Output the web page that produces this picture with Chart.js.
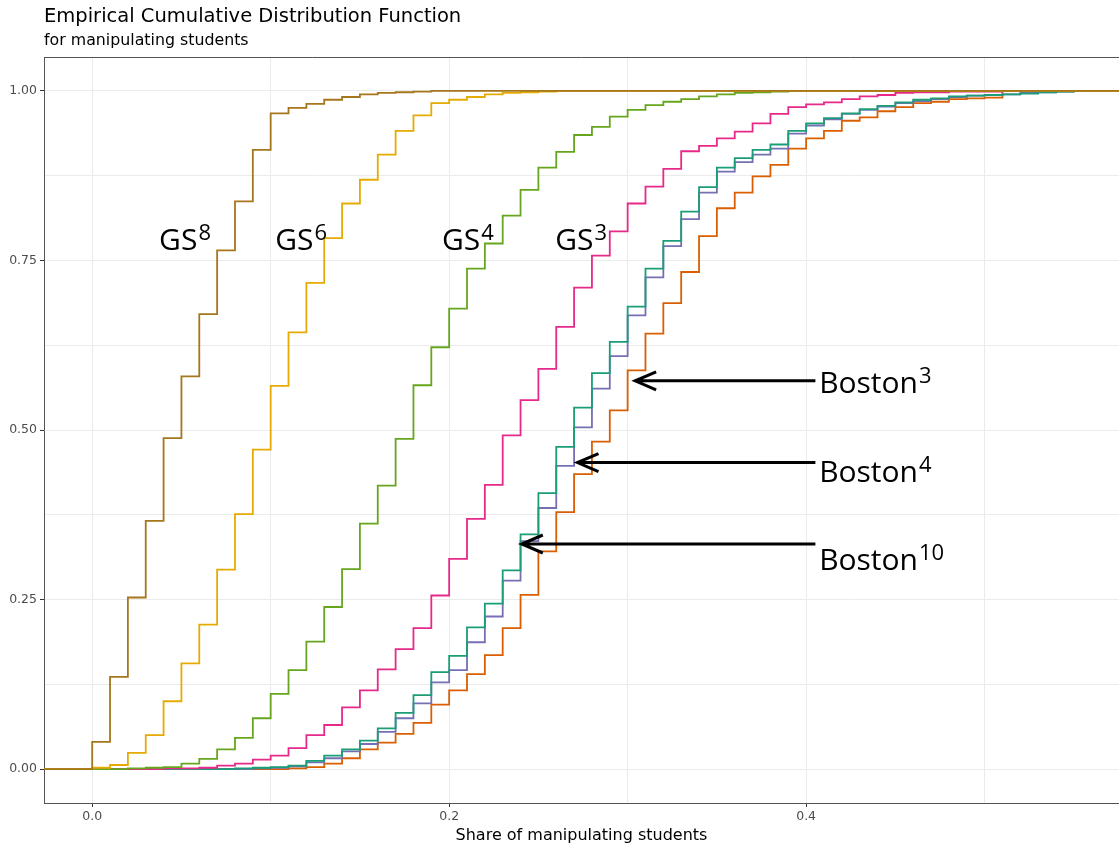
<!DOCTYPE html>
<html>
<head>
<meta charset="utf-8">
<script src="https://cdn.jsdelivr.net/npm/chart.js@4.4.0/dist/chart.umd.min.js"></script>
<style>
  html, body { margin: 0; padding: 0; background: #fff; }
  #wrap { width: 1119px; height: 848px; }
</style>
</head>
<body>
<div id="wrap"><canvas id="ecdfChart" width="1119" height="848"></canvas></div>
<script>
// share of manipulating students (x positions of the ECDF steps)
const shares = [0.00, 0.01, 0.02, 0.03, 0.04, 0.05, 0.06, 0.07, 0.08, 0.09,
                0.10, 0.11, 0.12, 0.13, 0.14, 0.15, 0.16, 0.17, 0.18, 0.19,
                0.20, 0.21, 0.22, 0.23, 0.24, 0.25, 0.26, 0.27, 0.28, 0.29,
                0.30, 0.31, 0.32, 0.33, 0.34, 0.35, 0.36, 0.37, 0.38, 0.39,
                0.40, 0.41, 0.42, 0.43, 0.44, 0.45, 0.46, 0.47, 0.48, 0.49,
                0.50, 0.51, 0.52, 0.53, 0.54, 0.55];

// cumulative share at each step
const gs8 = [0.040, 0.136, 0.253, 0.366, 0.488, 0.579, 0.671, 0.765, 0.837, 0.913,
             0.967, 0.975, 0.981, 0.987, 0.991, 0.995, 0.997, 0.998, 0.999, 1,
             1, 1, 1, 1, 1, 1, 1, 1, 1, 1, 1, 1, 1, 1, 1, 1, 1, 1, 1, 1,
             1, 1, 1, 1, 1, 1, 1, 1, 1, 1, 1, 1, 1, 1, 1, 1];
const gs6 = [0.002, 0.006, 0.024, 0.050, 0.100, 0.156, 0.213, 0.294, 0.376, 0.471,
             0.565, 0.644, 0.717, 0.783, 0.834, 0.869, 0.906, 0.941, 0.964, 0.982,
             0.987, 0.991, 0.995, 0.997, 0.998, 0.999, 1, 1, 1, 1,
             1, 1, 1, 1, 1, 1, 1, 1, 1, 1, 1, 1, 1, 1, 1, 1, 1, 1, 1, 1, 1, 1, 1, 1, 1, 1];
const gs4 = [0, 0, 0.001, 0.002, 0.003, 0.008, 0.015, 0.029, 0.046, 0.075,
             0.111, 0.146, 0.188, 0.239, 0.295, 0.362, 0.418, 0.487, 0.566, 0.622,
             0.679, 0.738, 0.775, 0.816, 0.854, 0.887, 0.910, 0.935, 0.947, 0.962,
             0.972, 0.979, 0.984, 0.988, 0.992, 0.995, 0.997, 0.998, 0.999, 1,
             1, 1, 1, 1, 1, 1, 1, 1, 1, 1, 1, 1, 1, 1, 1, 1];
const gs3 = [0, 0, 0, 0, 0.001, 0.001, 0.002, 0.005, 0.008, 0.014,
             0.020, 0.031, 0.050, 0.065, 0.091, 0.116, 0.147, 0.177, 0.208, 0.256,
             0.310, 0.369, 0.419, 0.492, 0.544, 0.590, 0.652, 0.710, 0.757, 0.793,
             0.834, 0.859, 0.885, 0.911, 0.919, 0.930, 0.940, 0.952, 0.966, 0.976,
             0.980, 0.983, 0.988, 0.992, 0.994, 0.997, 0.998, 0.998, 0.999, 0.999,
             0.999, 1, 1, 1, 1, 1];
const boston10 = [0, 0, 0, 0, 0, 0, 0, 0, 0.001, 0.002,
                  0.003, 0.005, 0.012, 0.020, 0.029, 0.042, 0.060, 0.083, 0.109, 0.143,
                  0.167, 0.209, 0.244, 0.293, 0.346, 0.407, 0.475, 0.533, 0.584, 0.630,
                  0.682, 0.738, 0.779, 0.822, 0.858, 0.887, 0.901, 0.913, 0.921, 0.941,
                  0.952, 0.960, 0.967, 0.973, 0.978, 0.983, 0.987, 0.989, 0.992, 0.993,
                  0.994, 0.995, 0.996, 0.998, 0.999, 1];
const boston4 = [0, 0, 0, 0, 0, 0, 0, 0, 0, 0.001,
                 0.002, 0.004, 0.010, 0.016, 0.026, 0.037, 0.055, 0.075, 0.097, 0.128,
                 0.146, 0.187, 0.225, 0.278, 0.336, 0.385, 0.447, 0.504, 0.561, 0.609,
                 0.669, 0.725, 0.771, 0.811, 0.850, 0.881, 0.895, 0.906, 0.915, 0.937,
                 0.949, 0.958, 0.966, 0.972, 0.977, 0.982, 0.985, 0.988, 0.991, 0.993,
                 0.994, 0.995, 0.997, 0.998, 0.999, 1];
const boston3 = [0, 0, 0, 0, 0, 0, 0, 0, 0, 0,
                 0, 0.001, 0.003, 0.008, 0.016, 0.029, 0.039, 0.052, 0.068, 0.095,
                 0.116, 0.140, 0.168, 0.208, 0.257, 0.321, 0.379, 0.435, 0.483, 0.529,
                 0.588, 0.642, 0.687, 0.733, 0.786, 0.827, 0.850, 0.874, 0.891, 0.915,
                 0.930, 0.941, 0.956, 0.961, 0.970, 0.976, 0.982, 0.984, 0.988, 0.989,
                 0.990, 1, 1, 1, 1, 1];

const yTicks = [0, 0.25, 0.5, 0.75, 1];
const xTicks = [0, 0.2, 0.4];

// hand-drawn style labels and arrows (data coordinates)
const labels = [
  { text: 'GS', sup: '8', x: 0.0375, y: 0.765 },
  { text: 'GS', sup: '6', x: 0.1025, y: 0.765 },
  { text: 'GS', sup: '4', x: 0.196, y: 0.765 },
  { text: 'GS', sup: '3', x: 0.2594, y: 0.765 },
  { text: 'Boston', sup: '3', x: 0.4073, y: 0.554 },
  { text: 'Boston', sup: '4', x: 0.4073, y: 0.424 },
  { text: 'Boston', sup: '10', x: 0.4073, y: 0.294 }
];
const arrows = [
  { from: 0.4052, to: 0.3042, y: 0.5725 },
  { from: 0.4052, to: 0.2719, y: 0.4519 },
  { from: 0.4052, to: 0.2407, y: 0.3319 }
];

function steps(vals) {
  const pts = [{ x: -0.1, y: 0 }];
  shares.forEach((s, i) => pts.push({ x: s, y: vals[i] }));
  pts.push({ x: 0.7, y: 1 });
  return pts;
}

function isOn(v, list) {
  return list.some(t => Math.abs(t - v) < 1e-6);
}

const series = [
  { label: 'GS8', vals: gs8, color: '#A6761D' },
  { label: 'GS6', vals: gs6, color: '#E6AB02' },
  { label: 'GS4', vals: gs4, color: '#66A61E' },
  { label: 'GS3', vals: gs3, color: '#E7298A' },
  { label: 'Boston10', vals: boston10, color: '#1B9E77' },
  { label: 'Boston4', vals: boston4, color: '#7570B3' },
  { label: 'Boston3', vals: boston3, color: '#D95F02' }
];

const frame = {
  id: 'frame',
  afterDraw(chart) {
    const { ctx, chartArea: a, scales } = chart;
    ctx.save();
    // top border of panel
    ctx.strokeStyle = '#555';
    ctx.lineWidth = 1;
    ctx.beginPath();
    ctx.moveTo(a.left, a.top + 0.5);
    ctx.lineTo(a.right, a.top + 0.5);
    ctx.stroke();
    // titles
    ctx.fillStyle = '#000';
    ctx.textAlign = 'left';
    ctx.textBaseline = 'alphabetic';
    ctx.font = '19.5px "DejaVu Sans"';
    ctx.fillText('Empirical Cumulative Distribution Function', a.left, 22);
    ctx.font = '15.8px "DejaVu Sans"';
    ctx.fillText('for manipulating students', a.left, 45);

    // annotations
    const xs = scales.x, ys = scales.y;
    labels.forEach(l => {
      const px = xs.getPixelForValue(l.x);
      const py = ys.getPixelForValue(l.y);
      ctx.font = '30px "Open Sans"';
      ctx.fillText(l.text, px, py);
      const w = ctx.measureText(l.text).width;
      ctx.font = '22px "Open Sans"';
      ctx.fillText(l.sup, px + w + 1, py - 10);
    });
    ctx.strokeStyle = '#000';
    ctx.lineWidth = 3;
    ctx.lineCap = 'butt';
    arrows.forEach(ar => {
      const x0 = xs.getPixelForValue(ar.from);
      const x1 = xs.getPixelForValue(ar.to);
      const py = ys.getPixelForValue(ar.y);
      ctx.beginPath();
      ctx.moveTo(x0, py);
      ctx.lineTo(x1, py);
      ctx.moveTo(x1 + 21, py - 9);
      ctx.lineTo(x1, py);
      ctx.lineTo(x1 + 21, py + 9);
      ctx.stroke();
    });
    ctx.restore();
  }
};

const ctx = document.getElementById('ecdfChart').getContext('2d');
const ecdfChart = new Chart(ctx, {
  type: 'line',
  data: {
    datasets: series.map(s => ({
      label: s.label,
      data: steps(s.vals),
      borderColor: s.color,
      backgroundColor: s.color,
      borderWidth: 1.8,
      pointRadius: 0,
      fill: false,
      stepped: 'before',
      clip: 0
    }))
  },
  options: {
    responsive: false,
    animation: false,
    layout: { padding: { top: 57, right: 0, bottom: 0, left: 0 } },
    plugins: {
      legend: { display: false },
      tooltip: { enabled: false },
      title: { display: false }
    },
    scales: {
      x: {
        type: 'linear',
        min: -0.027,
        max: 0.5753,
        afterFit: (scale) => { scale.height = 45; },
        border: { display: true, color: '#555', width: 1 },
        grid: {
          color: '#ebebeb',
          lineWidth: 1,
          tickLength: 4,
          tickColor: (c) => isOn(c.tick.value, xTicks) ? '#333' : 'rgba(0,0,0,0)'
        },
        ticks: {
          stepSize: 0.1,
          includeBounds: false,
          autoSkip: false,
          maxRotation: 0,
          padding: 2,
          color: '#4d4d4d',
          font: { family: 'DejaVu Sans', size: 12.5 },
          callback: (v) => isOn(v, xTicks) ? v.toFixed(1) : ''
        },
        title: {
          display: true,
          text: 'Share of manipulating students',
          color: '#000',
          font: { family: 'DejaVu Sans', size: 16 },
          padding: { top: 0, bottom: 3 }
        }
      },
      y: {
        type: 'linear',
        min: -0.05,
        max: 1.05,
        afterFit: (scale) => { scale.width = 44; },
        border: { display: true, color: '#555', width: 1 },
        grid: {
          color: '#ebebeb',
          lineWidth: 1,
          tickLength: 4,
          tickColor: (c) => isOn(c.tick.value, yTicks) ? '#333' : 'rgba(0,0,0,0)'
        },
        ticks: {
          stepSize: 0.125,
          includeBounds: false,
          autoSkip: false,
          padding: 3,
          color: '#4d4d4d',
          font: { family: 'DejaVu Sans', size: 12.5 },
          callback: (v) => isOn(v, yTicks) ? v.toFixed(2) : ''
        }
      }
    }
  },
  plugins: [frame]
});
</script>
</body>
</html>
